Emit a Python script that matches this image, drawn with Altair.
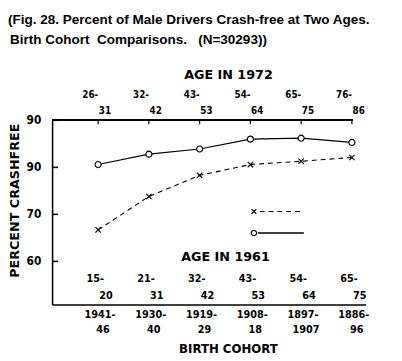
import altair as alt
import pandas as pd

# ---- data ----
idx = [0, 1, 2, 3, 4, 5]
age_1972_top = ["26-", "32-", "43-", "54-", "65-", "76-"]
age_1972_bot = ["31", "42", "53", "64", "75", "86"]
age_1961_top = ["15-", "21-", "32-", "43-", "54-", "65-"]
age_1961_bot = ["20", "31", "42", "53", "64", "75"]
cohort_top = ["1941-", "1930-", "1919-", "1908-", "1897-", "1886-"]
cohort_bot = ["46", "40", "29", "18", "1907", "96"]
circle_vals = [80.6, 82.8, 83.9, 86.0, 86.2, 85.3]   # o——o
cross_vals = [66.7, 73.8, 78.3, 80.6, 81.3, 82.1]    # x----x
y_ticks = [90, 80, 70, 60]
y_tick_labels = ["90", "90", "70", "60"]

title_lines = ["(Fig. 28. Percent of Male Drivers Crash-free at Two Ages.",
               "Birth Cohort\u00a0 Comparisons.\u00a0\u00a0 (N=30293))"]

FONT = "DejaVu Sans"
NUMFONT = "DejaVu Sans Condensed"
W, H = 320, 188

df = pd.DataFrame({
    "idx": idx, "circle": circle_vals, "cross": cross_vals,
    "a72t": age_1972_top, "a72b": age_1972_bot,
    "a61t": age_1961_top, "a61b": age_1961_bot,
    "ct": cohort_top, "cb": cohort_bot,
})
yt = pd.DataFrame({"v": y_ticks, "lab": y_tick_labels})

xs = alt.Scale(domain=[-0.907, 5.27], nice=False, zero=False)
ys = alt.Scale(domain=[50.83, 90], nice=False, zero=False)

X = alt.X("idx:Q", scale=xs,
          axis=alt.Axis(labels=False, ticks=False, grid=False, title=None,
                        domainColor="black", domainWidth=1.6))
base = alt.Chart(df)

solid = base.mark_line(color="black", strokeWidth=1.2).encode(
    x=X,
    y=alt.Y("circle:Q", scale=ys,
            axis=alt.Axis(labels=False, ticks=False, grid=False, title=None,
                          domainColor="black", domainWidth=1.6)))
circles = base.mark_point(shape="circle", filled=True, fill="white", stroke="black",
                          strokeWidth=1.2, size=38, opacity=1).encode(
    x=alt.X("idx:Q", scale=xs), y=alt.Y("circle:Q", scale=ys))

dashed = base.mark_line(color="black", strokeWidth=1.1, strokeDash=[5, 4]).encode(
    x=alt.X("idx:Q", scale=xs), y=alt.Y("cross:Q", scale=ys))
XPATH = "M-1,-1L1,1M-1,1L1,-1"
crosses = base.mark_point(shape=XPATH, filled=False, stroke="black",
                          strokeWidth=1.2, size=30, opacity=1).encode(
    x=alt.X("idx:Q", scale=xs), y=alt.Y("cross:Q", scale=ys))

# top frame line and top ticks
top_line = base.mark_rule(color="black", strokeWidth=1.6).encode(
    x=alt.value(0), x2=alt.value(307), y=alt.value(0))
top_ticks = base.mark_rule(color="black", strokeWidth=1.2).encode(
    x=alt.X("idx:Q", scale=xs), y=alt.value(0), y2=alt.value(4))

# y ticks (inward) and labels
y_tk = alt.Chart(yt).mark_rule(color="black", strokeWidth=1.6).encode(
    y=alt.Y("v:Q", scale=ys), x=alt.value(0), x2=alt.value(6))
y_lab = alt.Chart(yt).mark_text(font=NUMFONT, fontWeight="bold", fontSize=12,
                                align="right", baseline="middle").encode(
    y=alt.Y("v:Q", scale=ys), x=alt.value(-11), text="lab:N")

def row(field, ypix, dx, size=11, font=NUMFONT):
    return base.mark_text(font=font, fontWeight="bold", fontSize=size,
                          align="center", baseline="middle", dx=dx).encode(
        x=alt.X("idx:Q", scale=xs), y=alt.value(ypix), text=f"{field}:N")

labels = [
    row("a72t", -26, -8, 10), row("a72b", -9, 7, 10),
    row("a61t", 162, -3, 11), row("a61b", 179, 8, 11),
    row("ct", 199, 2, 11), row("cb", 214, 5, 11),
]

def note(text, x, y, size=12, align="center", angle=0, font=FONT, weight="bold"):
    return alt.Chart(pd.DataFrame({"t": [text]})).mark_text(
        font=font, fontWeight=weight, fontSize=size, align=align,
        baseline="middle", angle=angle).encode(
        x=alt.value(x), y=alt.value(y), text="t:N")

notes = [
    note(title_lines[0], -45, -102, 13.8, "left", font="Liberation Sans"),
    note(title_lines[1], -43, -82, 13.8, "left", font="Liberation Sans"),
    note("AGE IN 1972", 180, -46, 13),
    note("AGE IN 1961", 177, 140, 13),
    note("BIRTH COHORT", 180, 234, 12),
    note("PERCENT CRASHFREE", -38, 82, 13, angle=270),
]

# legend samples (unlabelled in the original)
leg = alt.Chart(pd.DataFrame({"k": [0]}))
legend = [
    leg.mark_rule(color="black", strokeWidth=1.1, strokeDash=[5, 4]).encode(
        x=alt.value(212), x2=alt.value(256), y=alt.value(93)),
    leg.mark_point(shape=XPATH, filled=False, stroke="black", strokeWidth=1.2,
                   size=24, opacity=1).encode(x=alt.value(206), y=alt.value(93)),
    leg.mark_rule(color="black", strokeWidth=1.3).encode(
        x=alt.value(210), x2=alt.value(257), y=alt.value(115)),
    leg.mark_point(shape="circle", filled=True, fill="white", stroke="black",
                   strokeWidth=1.2, size=30, opacity=1).encode(
        x=alt.value(206), y=alt.value(115)),
]

chart = alt.layer(
    solid, dashed, top_line, top_ticks, y_tk, y_lab, circles, crosses,
    *labels, *notes, *legend
).properties(
    width=W, height=H,
    autosize=alt.AutoSizeParams(type="none"),
    padding={"left": 45, "top": 111, "right": 29, "bottom": 54},
).configure_view(stroke=None)

chart.save("out.html", embed_options={"renderer": "svg", "actions": False})
